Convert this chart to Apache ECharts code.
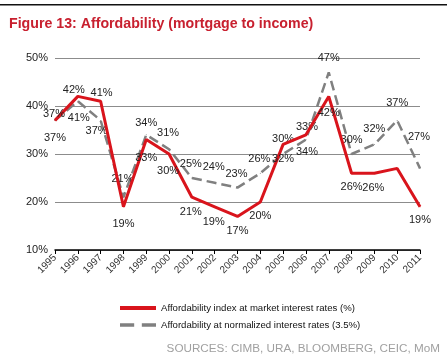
<!DOCTYPE html>
<html><head><meta charset="utf-8">
<script src="https://cdn.jsdelivr.net/npm/echarts@6/dist/echarts.min.js"></script>
<style>html,body{margin:0;padding:0;background:#fff}#c{width:447px;height:364px}</style>
</head><body><div id="c"></div>
<script>
const years = ['1995','1996','1997','1998','1999','2000','2001','2002','2003','2004','2005','2006','2007','2008','2009','2010','2011'];
const marketRates = [37,42,41,19,33,30,21,19,17,20,32,34,42,26,26,27,19];
const normalizedRates = [37,41,37,21,34,31,25,24,23,26,30,33,47,30,32,37,27];
const yTicks = [10,20,30,40,50];
const seriesNames = ['Affordability index at market interest rates (%)','Affordability at normalized interest rates (3.5%)'];

// label offsets (styling only)
const redOff = [[-1,-6],[-4,-6],[1,-8],[0,17],[0,18],[-1,17],[-1,15],[-1,15],[0,15],[0,14],[0,15],[1,17],[0,17],[0,14],[-1,15],null,[0,13]];
const greyOff = [[0,18],[1,17],[-4,11],[-1,-18],[0,-12],[-1,-16],[-1,-14],[-1,-16],[-1,-14],[-1,-14],[0,-15],[1,-13],[0,-14],[0,-14],[0,-15],[0,-17],[-1,-31]];

function mk(vals, offs){
  return vals.map((v,i)=>({value:v,label: offs[i] ? {show:true,position:'inside',offset:offs[i]} : {show:false}}));
}
const chart = echarts.init(document.getElementById('c'));
const lblStyle = {show:true,fontFamily:'Liberation Sans, Arial, sans-serif',fontSize:11,color:'#222',formatter:p=>p.value+'%'};
chart.setOption({
  animation:false,
  textStyle:{fontFamily:'Liberation Sans, Arial, sans-serif'},
  graphic:[
    {type:'rect',shape:{x:0,y:4,width:447,height:1.5},style:{fill:'#111'}},
    {type:'text',left:9,top:17,style:{text:'Figure 13: Affordability (mortgage to income)',fill:'#c8202f',font:'bold 14.2px Liberation Sans, Arial, sans-serif'}},
    {type:'text',right:7,top:343,style:{text:'SOURCES: CIMB, URA, BLOOMBERG, CEIC, MoM',fill:'#a0a0a0',font:'11.7px Liberation Sans, Arial, sans-serif'}}
  ],
  grid:{left:55,right:27,top:58,bottom:114},
  legend:{
    orient:'vertical',left:115,top:298,itemWidth:36,itemHeight:10,itemGap:7,
    textStyle:{fontSize:9.6,color:'#111'},
    data:[
      {name:seriesNames[0],icon:'path://M0,0h36v4h-36z',itemStyle:{color:'#d9141c'}},
      {name:seriesNames[1],icon:'path://M0,0h13v3h-13z M20,0h13v3h-13z',itemStyle:{color:'#808080'}}
    ]
  },
  xAxis:{
    type:'category',data:years,boundaryGap:false,
    axisLine:{lineStyle:{color:'#000',width:1.5}},
    axisTick:{show:true,length:4,lineStyle:{color:'#000'}},
    axisLabel:{rotate:45,fontSize:10,color:'#333',margin:6,interval:0},
    splitLine:{show:false}
  },
  yAxis:{
    type:'value',min:10,max:50,interval:10,
    axisLine:{show:false},axisTick:{show:false},
    axisLabel:{fontSize:11,color:'#222',margin:7,formatter:v=>v+'%'},
    splitLine:{lineStyle:{color:'#8c8c8c',width:1}}
  },
  series:[
    {name:seriesNames[0],type:'line',data:mk(marketRates,redOff),symbol:'circle',symbolSize:1,showSymbol:true,z:3,
     lineStyle:{color:'#d9141c',width:3},itemStyle:{color:'#d9141c'},label:lblStyle},
    {name:seriesNames[1],type:'line',data:mk(normalizedRates,greyOff),symbol:'circle',symbolSize:1,showSymbol:true,z:2,
     lineStyle:{color:'#808080',width:2.5,type:[10,5]},itemStyle:{color:'#808080'},label:lblStyle}
  ]
});
</script></body></html>
